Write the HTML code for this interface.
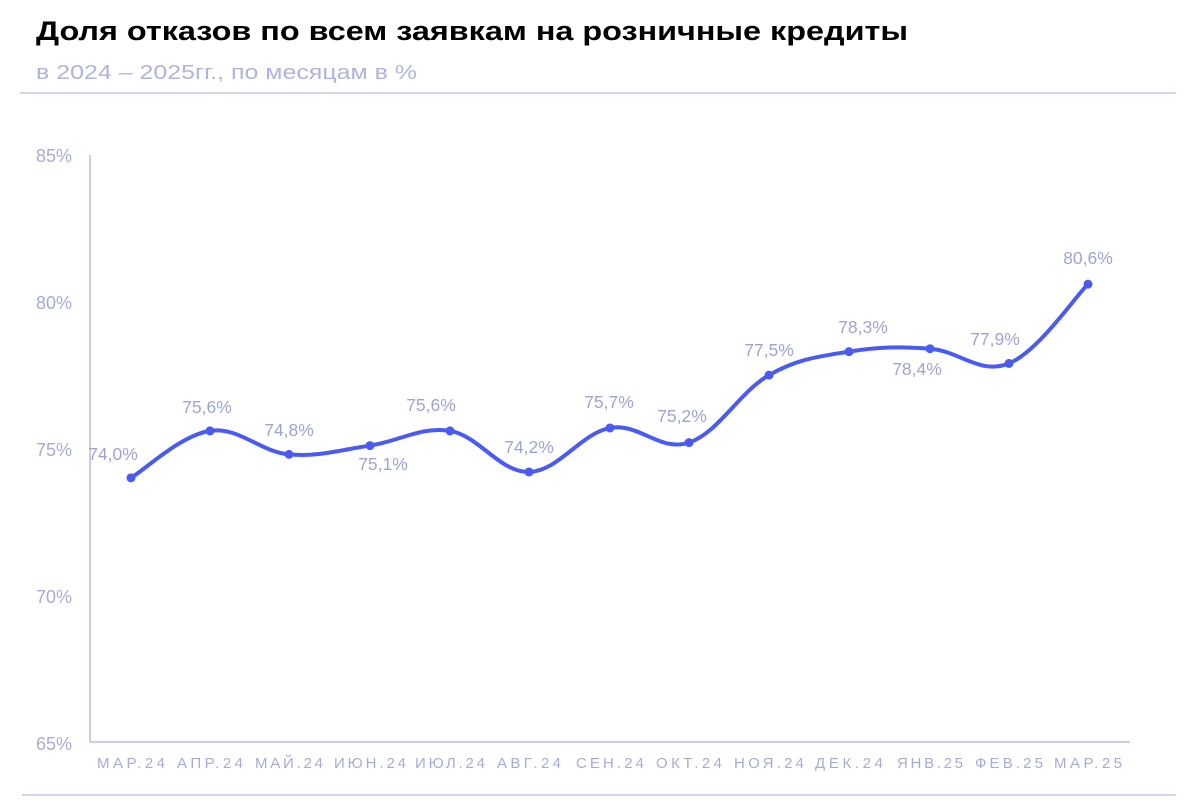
<!DOCTYPE html>
<html><head><meta charset="utf-8"><style>
body{margin:0;background:#fff;width:1200px;height:800px;overflow:hidden;font-family:"Liberation Sans","Noto Sans CJK SC",sans-serif}
</style></head><body>
<svg width="1200" height="800" xmlns="http://www.w3.org/2000/svg" font-family="Liberation Sans, DejaVu Sans, sans-serif">
<text x="36" y="40" font-size="27" font-weight="bold" fill="#000" textLength="872" lengthAdjust="spacingAndGlyphs">Доля отказов по всем заявкам на розничные кредиты</text>
<text x="36" y="79" font-size="20" fill="#b0b3dd" textLength="381" lengthAdjust="spacingAndGlyphs">в 2024 – 2025гг., по месяцам в %</text>
<line x1="20" y1="93" x2="1176" y2="93" stroke="#c3c5e4" stroke-width="1.5"/>
<line x1="22" y1="795" x2="1176" y2="795" stroke="#c3c5e4" stroke-width="1.5"/>
<line x1="90" y1="155" x2="90" y2="742" stroke="#b9bce2" stroke-width="1.5"/>
<line x1="90" y1="742" x2="1130" y2="742" stroke="#b9bce2" stroke-width="1.5"/>
<g font-size="18" fill="#a8abd8" text-anchor="end">
<text x="72" y="162">85%</text><text x="72" y="309">80%</text><text x="72" y="456">75%</text><text x="72" y="603">70%</text><text x="72" y="750">65%</text>
</g>
<g font-size="15" fill="#a8abd8" text-anchor="middle">
<text x="131" y="768" textLength="68">МАР.24</text><text x="210" y="768" textLength="66">АПР.24</text><text x="289" y="768" textLength="68">МАЙ.24</text><text x="370" y="768" textLength="72">ИЮН.24</text><text x="450" y="768" textLength="70">ИЮЛ.24</text><text x="529" y="768" textLength="64">АВГ.24</text><text x="610" y="768" textLength="68">СЕН.24</text><text x="689" y="768" textLength="66">ОКТ.24</text><text x="769" y="768" textLength="70">НОЯ.24</text><text x="849" y="768" textLength="68">ДЕК.24</text><text x="930" y="768" textLength="66">ЯНВ.25</text><text x="1009" y="768" textLength="68">ФЕВ.25</text><text x="1088" y="768" textLength="68">МАР.25</text>
</g>
<path id="ln" fill="none" stroke="#4a5af5" stroke-width="4" stroke-linecap="round"/>
<g id="dots" fill="#4a5af5"></g>
<g font-size="17.5" fill="#a0a3d6" text-anchor="middle">
<text x="113" y="460">74,0%</text><text x="207" y="413">75,6%</text><text x="289" y="436">74,8%</text><text x="383" y="470">75,1%</text><text x="431" y="411">75,6%</text><text x="529" y="453">74,2%</text><text x="609" y="408">75,7%</text><text x="682" y="422">75,2%</text><text x="769" y="356">77,5%</text><text x="863" y="333">78,3%</text><text x="917" y="375">78,4%</text><text x="995" y="345">77,9%</text><text x="1088" y="264">80,6%</text>
</g>
</svg>
<script>
var xs=[131,210,289,370,450,529,610,689,769,849,930,1009,1088];
var vs=[74.0,75.6,74.8,75.1,75.6,74.2,75.7,75.2,77.5,78.3,78.4,77.9,80.6];
var p=xs.map(function(x,i){return [x,742-(vs[i]-65)*29.35];});
var d="M"+p[0][0]+","+p[0][1];
for(var i=0;i<p.length-1;i++){
var p0=p[i-1]||p[i],p1=p[i],p2=p[i+1],p3=p[i+2]||p[i+1],t=0.5/3*1.1;
d+=" C"+(p1[0]+(p2[0]-p0[0])*t)+","+(p1[1]+(p2[1]-p0[1])*t)+" "+(p2[0]-(p3[0]-p1[0])*t)+","+(p2[1]-(p3[1]-p1[1])*t)+" "+p2[0]+","+p2[1];}
document.getElementById("ln").setAttribute("d",d);
var g=document.getElementById("dots"),h="";
p.forEach(function(q){h+='<circle cx="'+q[0]+'" cy="'+q[1]+'" r="4.5"/>';});
g.innerHTML=h;
</script>
</body></html>
